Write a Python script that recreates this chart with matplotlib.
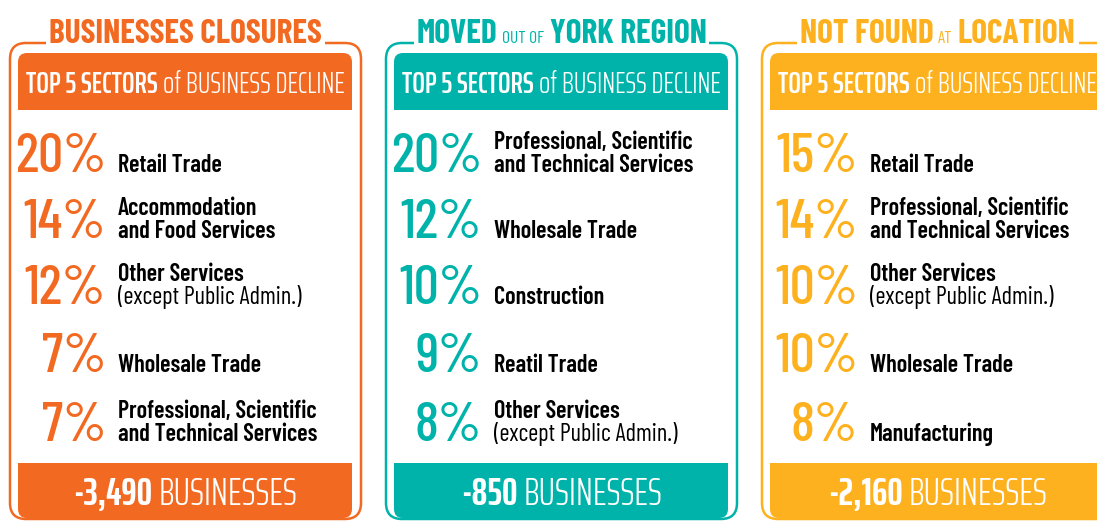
import matplotlib
matplotlib.use("Agg")
import matplotlib.pyplot as plt
from matplotlib.patches import FancyBboxPatch, Rectangle

FONT = ["Barlow Condensed", "DejaVu Sans"]
FONT_NARROW = ["Saira ExtraCondensed", "Barlow Condensed", "DejaVu Sans"]

# ---------------- data ----------------
title_big_1 = ["BUSINESSES CLOSURES", "MOVED", "NOT FOUND"]
title_small = ["", "OUT OF", "AT"]
title_big_2 = ["", "YORK REGION", "LOCATION"]
header_bold = "TOP 5 SECTORS"
header_regular = "of BUSINESS DECLINE"

closures_pct = [20, 14, 12, 7, 7]
closures_sectors = ["Retail Trade",
                    "Accommodation\nand Food Services",
                    "Other Services\n(except Public Admin.)",
                    "Wholesale Trade",
                    "Professional, Scientific\nand Technical Services"]

moved_pct = [20, 12, 10, 9, 8]
moved_sectors = ["Professional, Scientific\nand Technical Services",
                 "Wholesale Trade",
                 "Construction",
                 "Reatil Trade",
                 "Other Services\n(except Public Admin.)"]

notfound_pct = [15, 14, 10, 10, 8]
notfound_sectors = ["Retail Trade",
                    "Professional, Scientific\nand Technical Services",
                    "Other Services\n(except Public Admin.)",
                    "Wholesale Trade",
                    "Manufacturing"]

total_change = [-3490, -850, -2160]
total_unit = "BUSINESSES"

panel_colors = ["#F26A22", "#00B3AA", "#FDB11E"]

# ---------------- layout ----------------
W, H = 1097, 521
fig = plt.figure(figsize=(W / 100, H / 100), dpi=100)
ax = fig.add_axes([0, 0, 1, 1])
ax.set_xlim(0, W)
ax.set_ylim(H, 0)
ax.axis("off")
renderer = fig.canvas.get_renderer()


def width_of(s, size, weight, family):
    t = ax.text(0, 0, s, fontsize=size, fontweight=weight, family=family)
    w = t.get_window_extent(renderer).width
    t.remove()
    return w


def draw_pieces(xc, yb, pieces, color, gap, family=FONT, zorder=5, fit=None):
    pieces = [p for p in pieces if p[0]]
    widths = [width_of(s, sz, wt, family) for s, sz, wt in pieces]
    total = sum(widths) + gap * (len(pieces) - 1)
    if fit is not None and total > fit:
        k = fit / total
        pieces = [(s, sz * k, wt) for s, sz, wt in pieces]
        gap *= k
        widths = [width_of(s, sz, wt, family) for s, sz, wt in pieces]
        total = sum(widths) + gap * (len(pieces) - 1)
    x = xc - total / 2
    x0 = x
    for (s, sz, wt), w in zip(pieces, widths):
        ax.text(x, yb, s, ha="left", va="baseline", fontsize=sz,
                fontweight=wt, family=family, color=color, zorder=zorder)
        x += w + gap
    return x0, x0 + total


panel_left = [10, 386, 762]
panel_w = 351
row_baselines = [172, 238, 304, 372, 441]
pcts = [closures_pct, moved_pct, notfound_pct]
sectors = [closures_sectors, moved_sectors, notfound_sectors]

for i in range(3):
    L = panel_left[i]
    c = panel_colors[i]
    xc = L + panel_w / 2

    # outer rounded frame
    ax.add_patch(FancyBboxPatch((L, 43), panel_w, 476,
                                boxstyle="round,pad=0,rounding_size=16",
                                fc="white", ec=c, lw=1.8, zorder=1))
    # header bar (rounded top)
    ax.add_patch(FancyBboxPatch((L + 8, 53), panel_w - 17, 57,
                                boxstyle="round,pad=0,rounding_size=9",
                                fc=c, ec="none", zorder=2))
    ax.add_patch(Rectangle((L + 8, 80), panel_w - 17, 30, fc=c, ec="none", zorder=2))
    # bottom bar (rounded bottom)
    ax.add_patch(FancyBboxPatch((L + 8, 463), panel_w - 17, 55,
                                boxstyle="round,pad=0,rounding_size=9",
                                fc=c, ec="none", zorder=2))
    ax.add_patch(Rectangle((L + 8, 463), panel_w - 17, 25, fc=c, ec="none", zorder=2))

    # title over frame
    x0, x1 = draw_pieces(xc, 43, [(title_big_1[i], 24, 700),
                                  (title_small[i], 12.5, 400),
                                  (title_big_2[i], 24, 700)], c, gap=5, zorder=5)
    ax.add_patch(Rectangle((x0 - 3, 28), x1 - x0 + 6, 22, fc="white", ec="none", zorder=3))

    # header text
    draw_pieces(xc, 93, [(header_bold, 21.5, 600), (header_regular, 21.5, 300)],
                "white", gap=5, family=FONT_NARROW, fit=318)

    # rows
    for j, (p, s) in enumerate(zip(pcts[i], sectors[i])):
        yb = row_baselines[j]
        ax.text(L + 96, yb, f"{p}%", ha="right", va="baseline", fontsize=40,
                fontweight=500, family=FONT, color=c, zorder=5)
        lines = s.split("\n")
        for k, line in enumerate(lines):
            y = yb - 23 * (len(lines) - 1 - k)
            wt = 400 if line.startswith("(") else 600
            ax.text(L + 108, y, line, ha="left", va="baseline", fontsize=17.5,
                    fontweight=wt, family=FONT, color="black", zorder=5)

    # bottom total
    draw_pieces(xc, 505, [(f"{total_change[i]:,}", 28, 700), (total_unit, 28, 300)],
                "white", gap=6, family=FONT_NARROW, fit=236)

fig.savefig("out.png", dpi=100)
